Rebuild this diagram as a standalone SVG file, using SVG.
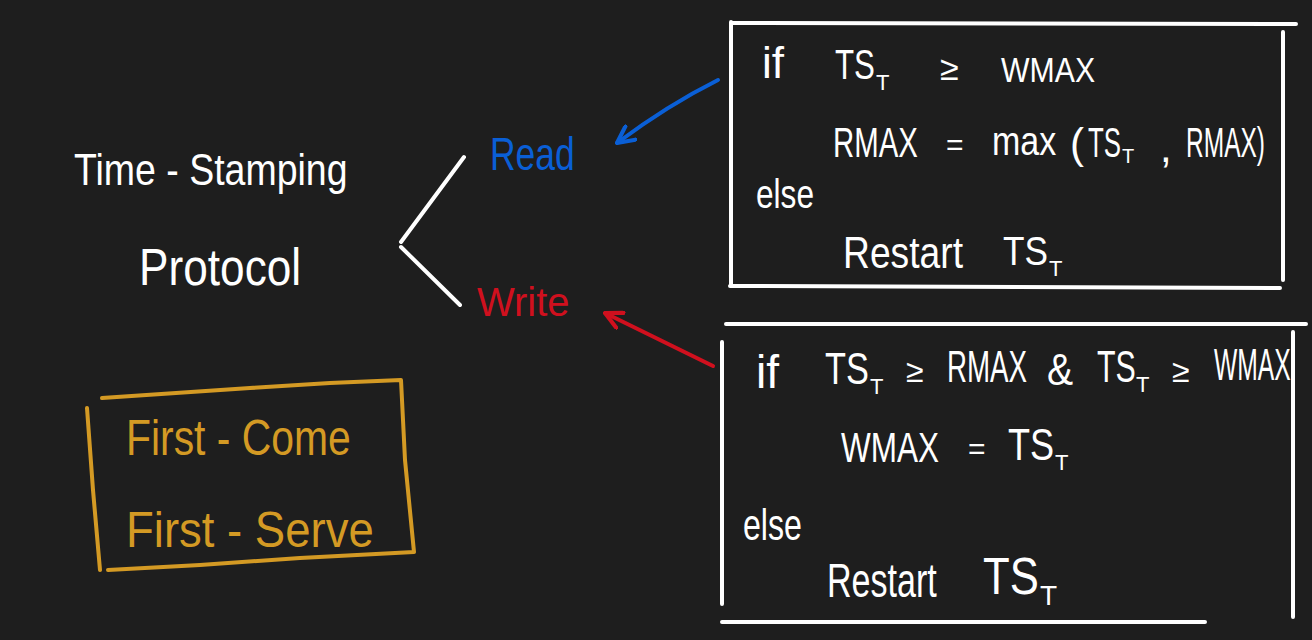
<svg xmlns="http://www.w3.org/2000/svg" width="1312" height="640" viewBox="0 0 1312 640">
<defs>
<style>
text{font-family:"Liberation Sans","DejaVu Sans",sans-serif;}
.w{fill:#ffffff;}
.s{font-size:22px;}
.stroke{fill:none;stroke:#ffffff;stroke-width:4;stroke-linecap:round;}
.or{fill:none;stroke:#d49a24;stroke-width:4;stroke-linecap:round;stroke-linejoin:round;}
.ot{fill:#d49a24;font-size:50px;}
</style>
<marker id="ab" viewBox="0 0 12 12" refX="11" refY="6" markerWidth="5" markerHeight="5" orient="auto"><path d="M1,1 L11,6 L1,11" fill="none" stroke="#0a5fd6" stroke-width="2.5" stroke-linecap="round" stroke-linejoin="round"/></marker>
<marker id="ar" viewBox="0 0 12 12" refX="11" refY="6" markerWidth="5" markerHeight="5" orient="auto"><path d="M1,1 L11,6 L1,11" fill="none" stroke="#d0101e" stroke-width="2.5" stroke-linecap="round" stroke-linejoin="round"/></marker>
</defs>
<rect width="1312" height="640" fill="#1e1e1e"/>

<g id="title">
<text class="w" font-size="44" transform="matrix(.852 0 0 1 74 185)">Time - Stamping</text>
<text class="w" font-size="52" transform="matrix(.85 0 0 1 139 285)">Protocol</text>
</g>

<g id="read">
<text fill="#0a5fd6" font-size="46" transform="matrix(.77 0 0 1 490 170)">Read</text>
</g>
<g id="write">
<text x="477" y="316" fill="#d0101e" font-size="40">Write</text>
</g>

<g id="fcfs">
<path class="or" d="M102,398 L250,388 L330,383 L401,380 L405,460 L414,552 L300,558 L200,565 L108,570"/>
<path class="or" d="M87,408 L93,490 L100,570"/>
<text class="ot" transform="matrix(.818 0 0 1 126 455)">First - Come</text>
<text class="ot" transform="matrix(.91 0 0 1 126 547)">First - Serve</text>
</g>

<g id="read-rule">
<path class="stroke" d="M732,23 L1296,24 M731,22 L731,285 M730,286 L1280,288 M1283,32 L1283,280"/>
<text class="w" font-size="44" x="762" y="78">if</text>
<text class="w" font-size="42" transform="matrix(.745 0 0 1 835 79)">TS</text>
<text class="w s" x="876" y="90">T</text>
<text class="w" font-size="34" x="940" y="80">≥</text>
<text class="w" font-size="36" transform="matrix(.84 0 0 1 1001 82)">WMAX</text>

<text class="w" font-size="42" transform="matrix(.70 0 0 1 833 157)">RMAX</text>
<text class="w" font-size="30" x="946" y="155">=</text>
<text class="w" font-size="40" transform="matrix(.85 0 0 1 992 155)">max</text>
<text class="w" font-size="42" x="1070" y="158">(</text>
<text class="w" font-size="42" transform="matrix(.615 0 0 1 1088 157)">TS</text>
<text class="w" font-size="20" x="1122" y="163">T</text>
<text class="w" font-size="42" x="1160" y="162">,</text>
<text class="w" font-size="42" transform="matrix(.584 0 0 1 1186 157)">RMAX)</text>

<text class="w" font-size="40" transform="matrix(.79 0 0 1 756 208)">else</text>
<text class="w" font-size="44" transform="matrix(.846 0 0 1 843 268)">Restart</text>
<text class="w" font-size="40" transform="matrix(.88 0 0 1 1003 265)">TS</text>
<text class="w s" x="1049" y="276">T</text>
</g>

<g id="write-rule">
<path class="stroke" d="M726,324 L1306,324 M722,342 L722,604 M722,622 L1205,622 M1293,332 L1293,617"/>
<text class="w" font-size="46" x="756" y="388">if</text>
<text class="w" font-size="44" transform="matrix(.78 0 0 1 825 384)">TS</text>
<text class="w s" x="870" y="394">T</text>
<text class="w" font-size="32" x="906" y="382">≥</text>
<text class="w" font-size="44" transform="matrix(.63 0 0 1 947 382)">RMAX</text>
<text class="w" font-size="44" transform="matrix(.89 0 0 1 1047 385)">&amp;</text>
<text class="w" font-size="44" transform="matrix(.69 0 0 1 1097 382)">TS</text>
<text class="w s" x="1136" y="392">T</text>
<text class="w" font-size="32" x="1172" y="382">≥</text>
<text class="w" font-size="44" transform="matrix(.56 0 0 1 1214 380)">WMAX</text>

<text class="w" font-size="42" transform="matrix(.75 0 0 1 841 462)">WMAX</text>
<text class="w" font-size="30" x="968" y="459">=</text>
<text class="w" font-size="44" transform="matrix(.82 0 0 1 1008 460)">TS</text>
<text class="w s" x="1055" y="470">T</text>

<text class="w" font-size="44" transform="matrix(.73 0 0 1 743 540)">else</text>
<text class="w" font-size="48" transform="matrix(.71 0 0 1 827 597)">Restart</text>
<text class="w" font-size="52" transform="matrix(.84 0 0 1 983 594)">TS</text>
<text class="w" font-size="28" x="1040" y="605">T</text>
</g>

<g id="connectors">
<path class="stroke" stroke-width="3" d="M464,157 L401,242 M401,247 L460,305"/>
<path d="M718,80 Q668,105 617,143" fill="none" stroke="#0a5fd6" stroke-width="4" stroke-linecap="round" marker-end="url(#ab)"/>
<path d="M713,366 Q660,340 605,313" fill="none" stroke="#d0101e" stroke-width="4" stroke-linecap="round" marker-end="url(#ar)"/>
</g>
</svg>
